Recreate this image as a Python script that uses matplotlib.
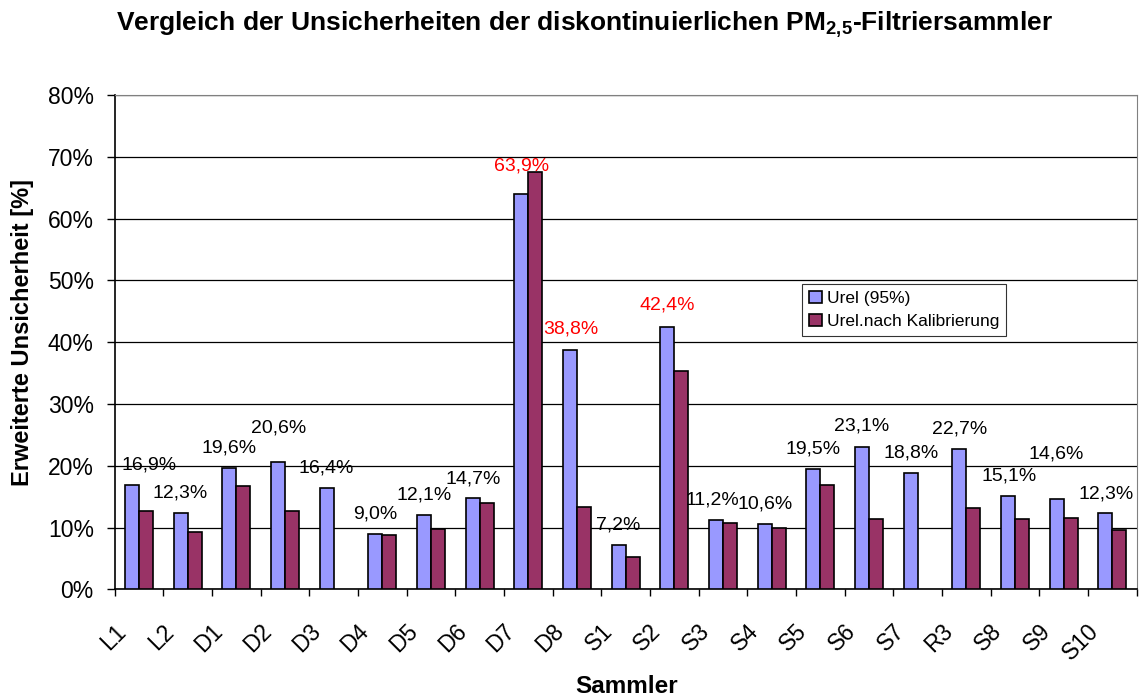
import matplotlib
matplotlib.use("Agg")
import matplotlib.pyplot as plt
import matplotlib.transforms as mtransforms
import numpy as np
from matplotlib.ticker import FixedLocator, PercentFormatter

plt.rcParams['font.family'] = ['Liberation Sans', 'DejaVu Sans']
plt.rcParams['mathtext.fontset'] = 'custom'
plt.rcParams['mathtext.rm'] = 'Liberation Sans'
plt.rcParams['mathtext.bf'] = 'Liberation Sans:bold'

categories = ["L1", "L2", "D1", "D2", "D3", "D4", "D5", "D6", "D7", "D8", "S1",
              "S2", "S3", "S4", "S5", "S6", "S7", "R3", "S8", "S9", "S10"]
urel_95 = [16.9, 12.3, 19.6, 20.6, 16.4, 9.0, 12.1, 14.7, 63.9, 38.8, 7.2,
           42.4, 11.2, 10.6, 19.5, 23.1, 18.8, 22.7, 15.1, 14.6, 12.3]
urel_kal = [12.7, 9.3, 16.7, 12.6, np.nan, 8.8, 9.8, 14.0, 67.6, 13.3, 5.3,
            35.4, 10.7, 10.0, 16.9, 11.3, np.nan, 13.1, 11.3, 11.6, 9.6]
highlight = [False, False, False, False, False, False, False, False, True, True, False,
             True, False, False, False, False, False, False, False, False, False]

# label placement (offsets relative to blue bar)
label_dx = [0.35, 0, 0, 0.02, 0, 0, 0, 0.02, 0, 0.01, 0,
            0, -0.07, 0.02, 0, 0, 0.02, 0, 0.02, 0, 0.01]
label_dy = [3.2, 3.3, 3.3, 5.5, 3.2, 3.2, 3.2, 3.2, 4.6, 3.4, 3.2,
            3.6, 3.3, 3.2, 3.2, 3.4, 3.2, 3.2, 3.3, 7.3, 3.1]

fig = plt.figure(figsize=(11.41, 6.96), dpi=100)
ax = fig.add_axes([0.1005, 0.1533, 0.8957, 0.7102])

x = np.arange(len(categories))
w = 0.29
ax.bar(x - w / 2, urel_95, w, color="#9999FF", edgecolor="black", linewidth=1.2,
       label="Urel (95%)", zorder=3)
ax.bar(x + w / 2, urel_kal, w, color="#993366", edgecolor="black", linewidth=1.2,
       label="Urel.nach Kalibrierung", zorder=3)

for i, v in enumerate(urel_95):
    txt = f"{v:.1f}%".replace(".", ",")
    ax.text(x[i] - w / 2 + label_dx[i], v + label_dy[i], txt,
            ha="center", va="center", fontsize=14,
            color="red" if highlight[i] else "black", zorder=4)

ax.set_xlim(-0.5, len(categories) - 0.5)
ax.set_ylim(0, 80)
ax.yaxis.set_major_locator(FixedLocator(np.arange(0, 81, 10)))
ax.yaxis.set_major_formatter(PercentFormatter(decimals=0))
ax.grid(axis="y", color="black", linewidth=0.9, zorder=0)

ax.set_xticks(x)
ax.set_xticklabels(categories, rotation=45, ha="right", va="top",
                   rotation_mode="anchor", fontsize=16.5)
ax.tick_params(axis="x", which="major", length=0, pad=22)
shift = mtransforms.ScaledTranslation(-0.25, 0, fig.dpi_scale_trans)
for lbl in ax.get_xticklabels():
    lbl.set_transform(lbl.get_transform() + shift)
ax.set_xticks(np.arange(-0.5, len(categories), 1), minor=True)
ax.tick_params(axis="x", which="minor", length=5, width=1, direction="out")
ax.tick_params(axis="y", labelsize=16.5, length=6, width=1, pad=9)

for s in ["left", "bottom"]:
    ax.spines[s].set_linewidth(1.2)
for s in ["top", "right"]:
    ax.spines[s].set_color("#808080")
    ax.spines[s].set_linewidth(0.8)

fig.text(627 / 1141, 1 - 693 / 696, "Sammler", ha="center", va="baseline",
         fontsize=17.5, fontweight="bold")
fig.text(23 / 1141, 1 - 332 / 696, "Erweiterte Unsicherheit [%]", rotation=90,
         ha="center", va="center", fontsize=17, fontweight="bold")

leg = ax.legend(loc="upper left", bbox_to_anchor=(0.673, 0.618), borderaxespad=0,
                fontsize=12.5, frameon=True, fancybox=False, edgecolor="black",
                handlelength=0.7, handleheight=0.7, handletextpad=0.3,
                borderpad=0.4, labelspacing=0.45)
leg.get_frame().set_linewidth(0.8)

fig.text(584 / 1141, 1 - 31 / 696,
         "Vergleich der Unsicherheiten der diskontinuierlichen PM$_{\\mathbf{2{,}5}}$-Filtriersammler",
         ha="center", va="baseline", fontsize=19, fontweight="bold")

fig.savefig("out.png", dpi=100)
